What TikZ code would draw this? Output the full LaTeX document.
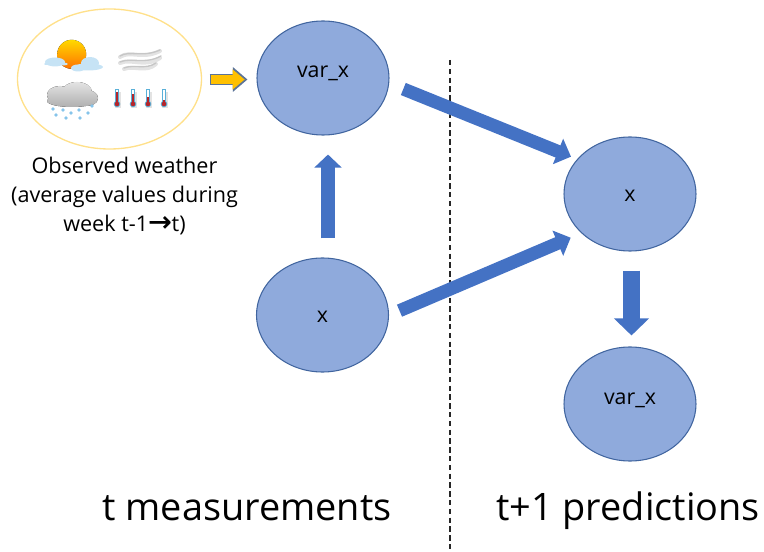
\documentclass[tikz,border=0pt]{standalone}
\usepackage{fontspec}
\setmainfont{Open Sans}
\newfontfamily\arrowfont{DejaVu Sans}[FakeBold=1]
\usetikzlibrary{shapes.geometric,arrows.meta,calc}
\definecolor{nodefill}{HTML}{8FAADC}
\definecolor{nodeline}{HTML}{41659F}
\definecolor{blockblue}{HTML}{4472C4}
\definecolor{sunring}{HTML}{FFE08A}
\definecolor{orangefill}{HTML}{FFC000}
\definecolor{orangeline}{HTML}{5B7398}
\definecolor{cloudpale}{HTML}{C6E3F5}
\definecolor{dropblue}{HTML}{86C4EA}
\definecolor{tubeblue}{HTML}{5AB0D8}
\definecolor{mercury}{HTML}{B5252B}
\tikzset{
  bubble/.style={ellipse,draw=nodeline,line width=0.8pt,fill=nodefill,minimum width=99pt,minimum height=85.5pt,inner sep=0pt,font=\fontsize{16}{18}\selectfont},
  diagarrow/.style={draw=blockblue,line width=9.8pt,-{Triangle[length=10.5pt,width=20pt]}},
  uparrow/.style={draw=blockblue,line width=10.5pt,-{Triangle[length=9.8pt,width=20pt]}},
  downarrow/.style={draw=blockblue,line width=12.75pt,-{Triangle[length=12.75pt,width=25.5pt]}},
  bigcaption/.style={font=\fontsize{28.4}{34}\selectfont,inner sep=0pt,anchor=base},
  smallcaption/.style={font=\fontsize{16.2}{21.5}\selectfont,align=center,inner sep=0pt},
  fogband/.style={draw=gray!22,line width=3pt,line cap=round},
  fogline/.style={draw=gray!45,line width=1pt,line cap=round},
}
\begin{document}
\begin{tikzpicture}[x=0.75pt,y=-0.75pt]
\useasboundingbox (0,0) rectangle (764,552);
% divider
\coordinate (divTop) at (450,60);
\coordinate (divBot) at (450,552);
\draw[black!85,line width=0.8pt,dash pattern=on 4pt off 2.6pt] (divTop) -- (divBot);

% weather group
\node[ellipse,draw=sunring,line width=1pt,minimum width=138pt,minimum height=105pt,inner sep=0pt] (weather) at (109.5,79) {};
% sun and clouds
\fill[top color=yellow!70!orange,bottom color=orange!90!red] (71.7,54.3) circle [radius=14.5];
\fill[cloudpale] (55,62) ellipse [x radius=10,y radius=4.5] (47,64) ellipse [x radius=3,y radius=1] (62,64) ellipse [x radius=6,y radius=1.5];
\fill[cloudpale] (90,63) ellipse [x radius=9,y radius=6] (88,67) ellipse [x radius=15,y radius=3.5] (78,68) ellipse [x radius=7,y radius=3.5];
% fog
\draw[fogband] (120,57) .. controls (130,50) and (142,60) .. (160,51);
\draw[fogband] (120,63) .. controls (132,58) and (144,68) .. (160,58);
\draw[fogband] (124,69) .. controls (134,65) and (146,73) .. (156,64);
\draw[fogline] (120,56) .. controls (130,50) and (142,58) .. (160,50);
\draw[fogline] (120,62) .. controls (132,57) and (144,65) .. (161,56);
\draw[fogline] (124,68) .. controls (134,64) and (146,70) .. (156,63);
% rain cloud
\fill[top color=gray!22,bottom color=gray!62] (72,101) ellipse [x radius=25,y radius=6]
  (60,95) ellipse [x radius=13,y radius=9] (77,92) ellipse [x radius=15,y radius=10] (87,98) ellipse [x radius=11,y radius=8];
\foreach \dx/\dy in {53/109,63/110,71/113,79/110,92/106,56/115,66/118,80/118,88/113}
  \fill[dropblue] (\dx,\dy) circle [radius=1.9];
% thermometers
\foreach \tx/\ty in {117/92,133/94,148/97,164/100}{
  \fill[gray!22] (\tx-2,92) rectangle (\tx+3.5,108);
  \fill[tubeblue] (\tx,104) circle [radius=3.3];
  \fill[tubeblue] (\tx-2.3,89.5) rectangle (\tx+2.3,104);
  \fill[white] (\tx-1.3,90.5) rectangle (\tx+1.3,104);
  \fill[mercury] (\tx,104) circle [radius=2.3];
  \fill[mercury] (\tx-1,\ty) rectangle (\tx+1,104);
}

% circles
\node[bubble] (varxA) at (323,78) {\raisebox{0pt}[0pt][0pt]{var\_x}};
\node[bubble] (xA) at (322.5,315) {\raisebox{-5.8pt}[0pt][0pt]{x}};
\node[bubble] (xB) at (630,194) {\raisebox{-5.8pt}[0pt][0pt]{x}};
\node[bubble] (varxB) at (630,404) {\raisebox{0pt}[0pt][0pt]{var\_x}};

% orange arrow
\coordinate (orangeStart) at ($(weather.east)+(7.5,0.5)$);
\coordinate (orangeEnd) at ($(varxA.west)+(-9,1.5)$);
\draw[draw=orangeline,line width=8.8pt,-{Triangle[length=11pt,width=18pt]}] (orangeStart) -- (orangeEnd);
\draw[draw=orangefill,line width=7pt,-{Triangle[length=9pt,width=14.5pt]}] ($(orangeStart)+(1.2,0)$) -- ($(orangeEnd)+(-2.8,0)$);

% block arrows
\coordinate (diagAstart) at ($(varxA)+(80.3,11)$);
\coordinate (diagAend) at ($(xB)+(-59,-37.3)$);
\draw[diagarrow] (diagAstart) -- (diagAend);
\coordinate (diagBstart) at ($(xA)+(77,-4.3)$);
\coordinate (diagBend) at ($(xB)+(-59.3,43.7)$);
\draw[diagarrow] (diagBstart) -- (diagBend);
\coordinate (upStart) at ($(xA.north)+(5.5,-19)$);
\coordinate (upEnd) at ($(varxA.south)+(5,19)$);
\draw[uparrow] (upStart) -- (upEnd);
\coordinate (downStart) at ($(xB.south)+(1.5,19)$);
\coordinate (downEnd) at ($(varxB.north)+(1.5,-11)$);
\draw[downarrow] (downStart) -- (downEnd);

% texts
\node[smallcaption] (obs) at (124.5,196) {Observed weather\\(average values during\\week t-1{\arrowfont\fontsize{21}{18}\selectfont →}t)};
\node[bigcaption] (tm) at (247,520) {t measurements};
\node[bigcaption] (tp) at (628,520) {t+1 predictions};
\end{tikzpicture}
\end{document}
